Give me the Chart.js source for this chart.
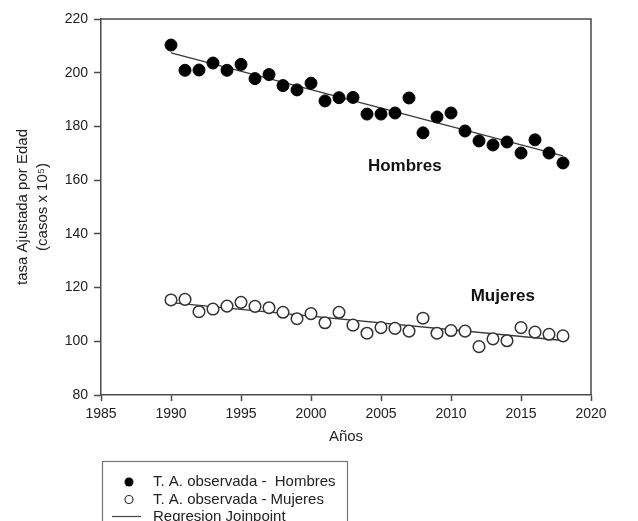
<!DOCTYPE html>
<html>
<head>
<meta charset="utf-8">
<script src="https://cdn.jsdelivr.net/npm/chart.js@4/dist/chart.umd.min.js"></script>
<style>
  html, body { margin: 0; padding: 0; background: #fff; }
  #wrap { width: 638px; height: 521px; overflow: hidden; }
</style>
</head>
<body>
<div id="wrap"><canvas id="c" width="638" height="521"></canvas></div>
<script>
// ---- Data ----
const years = [1990, 1991, 1992, 1993, 1994, 1995, 1996, 1997, 1998, 1999,
               2000, 2001, 2002, 2003, 2004, 2005, 2006, 2007, 2008, 2009,
               2010, 2011, 2012, 2013, 2014, 2015, 2016, 2017, 2018];
const hombres = [210.3, 200.9, 201.0, 203.6, 200.9, 203.1, 197.8, 199.3, 195.2, 193.6,
                 196.1, 189.5, 190.7, 190.8, 184.6, 184.6, 185.0, 190.6, 177.6, 183.5,
                 185.0, 178.3, 174.6, 173.1, 174.2, 170.1, 175.0, 170.1, 166.4];
const mujeres = [115.4, 115.6, 111.0, 112.0, 113.1, 114.5, 113.0, 112.5, 110.8, 108.4,
                 110.3, 106.9, 110.8, 106.0, 103.0, 105.1, 104.8, 103.8, 108.6, 103.0,
                 104.0, 103.8, 98.0, 100.9, 100.2, 105.1, 103.4, 102.6, 102.0];
const regYears = [1990, 2018];
const regHombres = [207.4, 169.0];
const regMujeres = [114.4, 100.3];

const xTicks = [1985, 1990, 1995, 2000, 2005, 2010, 2015, 2020];
const yTicks = [80, 100, 120, 140, 160, 180, 200, 220];

const seriesLabels = ['Hombres', 'Mujeres'];
const legendLabels = ['T. A. observada -  Hombres', 'T. A. observada - Mujeres', 'Regresion Joinpoint'];
const yTitle = ['tasa Ajustada por Edad', '(casos x 10\u2075)'];
const xTitle = 'Años';
// text annotation anchors (data coordinates)
const annoX = [2006.7, 2013.7];
const annoY = [165.3, 116.9];

// ---- Build datasets ----
const toXY = (xs, ys) => xs.map((x, i) => ({ x: x, y: ys[i] }));

const FONT = '"Liberation Sans", Arial, Helvetica, sans-serif';
const AXIS = '#4a4a4a';
const TEXT = '#222';

const framePlugin = {
  id: 'frame',
  afterDatasetsDraw(chart) {
    const { ctx, chartArea: a } = chart;
    ctx.save();
    ctx.strokeStyle = AXIS;
    ctx.lineWidth = 1.5;
    ctx.beginPath();
    ctx.moveTo(a.left, a.top);
    ctx.lineTo(a.right, a.top);
    ctx.lineTo(a.right, a.bottom);
    ctx.stroke();
    ctx.restore();
  }
};

const annoPlugin = {
  id: 'anno',
  afterDatasetsDraw(chart) {
    const { ctx, scales } = chart;
    ctx.save();
    ctx.fillStyle = '#111';
    ctx.font = 'bold 17px ' + FONT;
    ctx.textAlign = 'center';
    ctx.textBaseline = 'middle';
    seriesLabels.forEach((t, i) => {
      ctx.fillText(t, scales.x.getPixelForValue(annoX[i]), scales.y.getPixelForValue(annoY[i]));
    });
    ctx.restore();
  }
};

const legendPlugin = {
  id: 'boxLegend',
  afterDraw(chart) {
    const ctx = chart.ctx;
    ctx.save();
    ctx.strokeStyle = '#777';
    ctx.lineWidth = 1.2;
    ctx.strokeRect(102.5, 461.5, 245, 100);
    const rowY = [482, 499.5, 516.5];
    // symbols
    ctx.fillStyle = '#000';
    ctx.beginPath(); ctx.arc(129, rowY[0], 4.5, 0, Math.PI * 2); ctx.fill();
    ctx.strokeStyle = '#333';
    ctx.lineWidth = 1.2;
    ctx.beginPath(); ctx.arc(129, rowY[1], 4, 0, Math.PI * 2); ctx.stroke();
    ctx.strokeStyle = '#444';
    ctx.lineWidth = 1.2;
    ctx.beginPath(); ctx.moveTo(112, rowY[2]); ctx.lineTo(141, rowY[2]); ctx.stroke();
    // texts
    ctx.fillStyle = TEXT;
    ctx.font = '15px ' + FONT;
    ctx.textAlign = 'left';
    ctx.textBaseline = 'middle';
    legendLabels.forEach((t, i) => ctx.fillText(t, 153, rowY[i]));
    ctx.restore();
  }
};

new Chart(document.getElementById('c'), {
  type: 'scatter',
  data: {
    datasets: [
      {
        label: legendLabels[0],
        data: toXY(years, hombres),
        pointRadius: 6,
        pointBackgroundColor: '#000',
        pointBorderColor: '#000',
        pointBorderWidth: 1
      },
      {
        label: legendLabels[1],
        data: toXY(years, mujeres),
        pointRadius: 5.8,
        pointBackgroundColor: '#fff',
        pointBorderColor: '#333',
        pointBorderWidth: 1.5
      },
      {
        type: 'line',
        label: legendLabels[2],
        data: toXY(regYears, regHombres),
        borderColor: '#3a3a3a',
        borderWidth: 1.3,
        pointRadius: 0,
        fill: false
      },
      {
        type: 'line',
        label: legendLabels[2],
        data: toXY(regYears, regMujeres),
        borderColor: '#3a3a3a',
        borderWidth: 1.3,
        pointRadius: 0,
        fill: false
      }
    ]
  },
  options: {
    responsive: false,
    animation: false,
    devicePixelRatio: 1,
    layout: { padding: { left: 0, top: 19, right: 47, bottom: 66 } },
    plugins: {
      legend: { display: false },
      tooltip: { enabled: false }
    },
    scales: {
      x: {
        type: 'linear',
        min: 1985,
        max: 2020,
        afterBuildTicks: (s) => { s.ticks = xTicks.map(v => ({ value: v })); },
        afterFit: (s) => { s.height = 60; },
        ticks: {
          color: TEXT,
          font: { family: FONT, size: 14 },
          padding: 5,
          maxRotation: 0,
          callback: (v) => String(v)
        },
        grid: {
          drawOnChartArea: false,
          drawTicks: true,
          tickLength: 6,
          tickColor: AXIS,
          tickWidth: 1.5
        },
        border: { display: true, color: AXIS, width: 1.5 },
        title: {
          display: true,
          text: xTitle,
          color: TEXT,
          font: { family: FONT, size: 15, lineHeight: 1.2 },
          padding: { top: 0, bottom: 9 }
        }
      },
      y: {
        type: 'linear',
        min: 80,
        max: 220,
        afterBuildTicks: (s) => { s.ticks = yTicks.map(v => ({ value: v })); },
        afterFit: (s) => { s.width = 101; },
        ticks: {
          color: TEXT,
          font: { family: FONT, size: 14 },
          padding: 6,
          callback: (v) => String(v)
        },
        grid: {
          drawOnChartArea: false,
          drawTicks: true,
          tickLength: 7,
          tickColor: AXIS,
          tickWidth: 1.5
        },
        border: { display: true, color: AXIS, width: 1.5 },
        title: {
          display: true,
          text: yTitle,
          color: TEXT,
          font: { family: FONT, size: 15, lineHeight: 1.33 },
          padding: { top: 13, bottom: 0 }
        }
      }
    }
  },
  plugins: [framePlugin, annoPlugin, legendPlugin]
});
</script>
</body>
</html>
